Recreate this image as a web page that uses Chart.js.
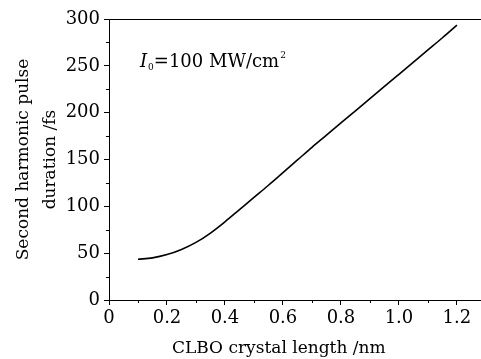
<!DOCTYPE html>
<html lang="en">
<head>
<meta charset="UTF-8">
<title>SH pulse duration vs CLBO length</title>
<style>
  html, body { margin: 0; padding: 0; background: #fff; }
  #wrap { width: 481px; height: 359px; }
</style>
</head>
<body>
<div id="wrap"><canvas id="chart" width="481" height="359"></canvas></div>

<script src="https://cdn.jsdelivr.net/npm/chart.js"></script>
<script>
  // crystal length (nm, as labelled) and second harmonic pulse duration (fs)
  const lengths   = [0.10, 0.15, 0.20, 0.25, 0.30, 0.35, 0.40, 0.45, 0.50, 0.55, 0.60, 0.65,
                     0.70, 0.75, 0.80, 0.85, 0.90, 0.95, 1.00, 1.05, 1.10, 1.15, 1.20];
  const durations = [43.5, 45, 48.5, 54, 61.5, 71.5, 83.5, 96.5, 109.5, 122.5, 136, 149.5,
                     163, 176, 189, 202, 215, 228, 241, 254, 267, 280, 293.5];
  const xTicks = [0, 0.2, 0.4, 0.6, 0.8, 1.0, 1.2];
  const yTicks = [0, 50, 100, 150, 200, 250, 300];

  const FONT = '"DejaVu Serif", "Liberation Serif", serif';

  // top frame line, minor ticks and the intensity note
  const extras = {
    id: 'extras',
    afterDraw(chart) {
      const { ctx, chartArea: a, scales } = chart;
      ctx.save();
      ctx.strokeStyle = '#000';
      ctx.lineWidth = 1;
      ctx.beginPath();
      ctx.moveTo(a.left, a.top + 0.5);
      ctx.lineTo(a.right, a.top + 0.5);
      // minor ticks
      for (let v = 0.1; v < scales.x.max; v += 0.2) {
        const px = Math.round(scales.x.getPixelForValue(v)) + 0.5;
        ctx.moveTo(px, a.bottom);
        ctx.lineTo(px, a.bottom + 3);
      }
      for (let v = 25; v < 300; v += 50) {
        const py = Math.round(scales.y.getPixelForValue(v)) + 0.5;
        ctx.moveTo(a.left, py);
        ctx.lineTo(a.left - 3, py);
      }
      ctx.stroke();

      // I0=100 MW/cm2
      ctx.fillStyle = '#000';
      ctx.textBaseline = 'alphabetic';
      let x = a.left + 31, y = a.top + 48;
      ctx.font = 'italic 18px ' + FONT;
      ctx.fillText('I', x, y);
      x += ctx.measureText('I').width + 1;
      ctx.font = '9px ' + FONT;
      ctx.fillText('0', x, y + 3);
      x += ctx.measureText('0').width;
      ctx.font = '18px ' + FONT;
      ctx.fillText('=100 MW/cm', x, y);
      x += ctx.measureText('=100 MW/cm').width + 1;
      ctx.font = '9px ' + FONT;
      ctx.fillText('2', x, y - 9);
      ctx.restore();
    }
  };

  new Chart(document.getElementById('chart'), {
    type: 'line',
    data: {
      datasets: [{
        data: lengths.map((l, i) => ({ x: l, y: durations[i] })),
        borderColor: '#000',
        borderWidth: 1.6,
        pointRadius: 0,
        cubicInterpolationMode: 'monotone',
        fill: false
      }]
    },
    options: {
      responsive: false,
      animation: false,
      layout: { padding: { top: 19, right: 0, left: 0, bottom: 0 } },
      plugins: { legend: { display: false }, tooltip: { enabled: false } },
      scales: {
        x: {
          type: 'linear',
          min: 0,
          max: 1.283,
          afterBuildTicks: s => { s.ticks = xTicks.map(v => ({ value: v })); },
          afterFit: s => { s.height = 59; },
          ticks: {
            color: '#000',
            padding: 3,
            font: { family: FONT, size: 18 },
            callback: v => v === 0 ? '0' : v.toFixed(1)
          },
          grid: { drawOnChartArea: false, drawTicks: true, tickLength: 5, color: '#000' },
          border: { display: true, color: '#000', width: 1 },
          title: {
            display: true,
            // trailing spaces pull the centred title slightly left, as in the original
            text: 'CLBO crystal length /nm      ',
            color: '#000',
            font: { family: FONT, size: 17 },
            padding: { top: 3, bottom: 0 }
          }
        },
        y: {
          min: 0,
          max: 300,
          afterBuildTicks: s => { s.ticks = yTicks.map(v => ({ value: v })); },
          afterFit: s => { s.width = 109; },
          ticks: {
            color: '#000',
            padding: 4,
            font: { family: FONT, size: 18 }
          },
          grid: { drawOnChartArea: false, drawTicks: true, tickLength: 5, color: '#000' },
          border: { display: true, color: '#000', width: 1 },
          title: {
            display: true,
            text: ['Second harmonic pulse', 'duration /fs'],
            color: '#000',
            font: { family: FONT, size: 17, lineHeight: 1.6 },
            padding: { top: 10, bottom: 0 }
          }
        }
      }
    },
    plugins: [extras]
  });
</script>
</body>
</html>
